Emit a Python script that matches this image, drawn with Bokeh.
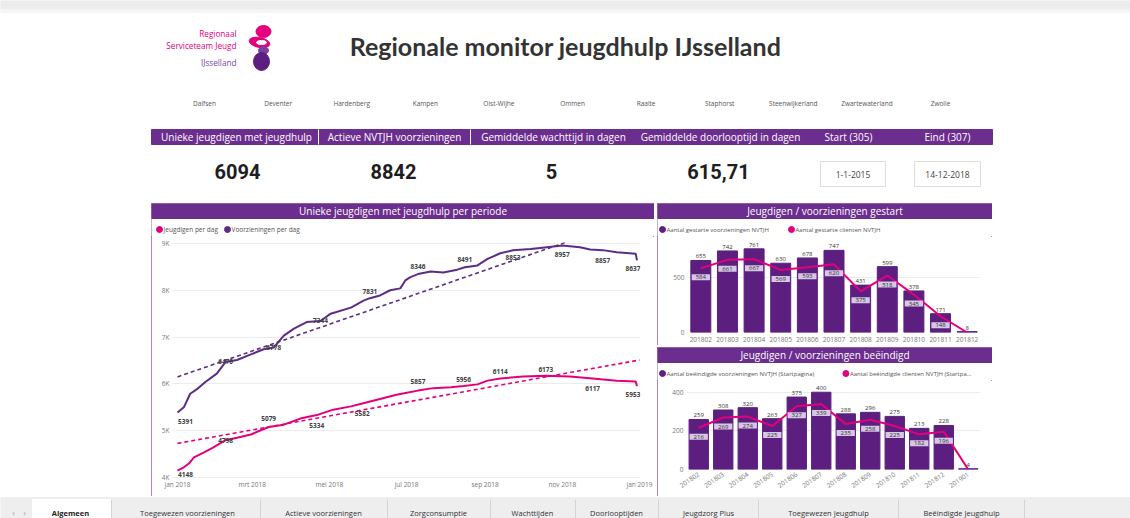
import datetime as dt
from bokeh.plotting import figure
from bokeh.models import Range1d, FixedTicker, ColumnDataSource, Spacer, LabelSet
from bokeh.layouts import row, column
from bokeh.core.properties import value
from bokeh.embed import file_html
from bokeh.resources import INLINE

# ---------------- data ----------------
dashboard_title = "Regionale monitor jeugdhulp IJsselland"
logo_lines = ["Regionaal", "Serviceteam Jeugd", "IJsselland"]
gemeenten = ["Dalfsen", "Deventer", "Hardenberg", "Kampen", "Olst-Wijhe", "Ommen",
             "Raalte", "Staphorst", "Steenwijkerland", "Zwartewaterland", "Zwolle"]
kpi_names = ["Unieke jeugdigen met jeugdhulp", "Actieve NVTJH voorzieningen",
             "Gemiddelde wachttijd in dagen", "Gemiddelde doorlooptijd in dagen"]
kpi_values = ["6094", "8842", "5", "615,71"]
period_names = ["Start (305)", "Eind (307)"]
period_values = ["1-1-2015", "14-12-2018"]
tabs = ["Algemeen", "Toegewezen voorzieningen", "Actieve voorzieningen", "Zorgconsumptie",
        "Wachttijden", "Doorlooptijden", "Jeugdzorg Plus", "Toegewezen Jeugdhulp",
        "Beëindigde Jeugdhulp"]

line_title = "Unieke jeugdigen met jeugdhulp per periode"
line_series = ["Jeugdigen per dag", "Voorzieningen per dag"]
voorz_dates = ["2018-01-01", "2018-01-06", "2018-01-11", "2018-01-17", "2018-01-23", "2018-02-01",
               "2018-02-08", "2018-02-17", "2018-02-28", "2018-03-10", "2018-03-18", "2018-03-26",
               "2018-04-03", "2018-04-13", "2018-04-24", "2018-05-02", "2018-05-18", "2018-05-28",
               "2018-06-02", "2018-06-10", "2018-06-18", "2018-06-26", "2018-06-30", "2018-07-04",
               "2018-07-10", "2018-07-20", "2018-07-30", "2018-08-10", "2018-08-16", "2018-08-26",
               "2018-09-03", "2018-09-13", "2018-09-23", "2018-10-07", "2018-10-20", "2018-11-01",
               "2018-11-15", "2018-11-23", "2018-12-03", "2018-12-14", "2018-12-29", "2018-12-30"]
voorz_values = [5391, 5500, 5790, 5900, 6040, 6220, 6470, 6510, 6630, 6740, 6778, 7030,
                7180, 7320, 7344, 7500, 7630, 7780, 7831, 7890, 8000, 8040, 8210, 8280,
                8346, 8400, 8380, 8440, 8491, 8530, 8670, 8790, 8853, 8880, 8920, 8957,
                8920, 8870, 8857, 8810, 8780, 8637]
voorz_label_idx = [0, 6, 10, 14, 18, 24, 28, 32, 35, 38, 41]
jeugd_dates = ["2018-01-01", "2018-01-06", "2018-01-10", "2018-01-14", "2018-01-22", "2018-01-29",
               "2018-02-08", "2018-02-17", "2018-02-28", "2018-03-14", "2018-03-26", "2018-04-08",
               "2018-04-21", "2018-05-04", "2018-05-18", "2018-05-27", "2018-06-13", "2018-06-23",
               "2018-06-29", "2018-07-10", "2018-07-22", "2018-08-05", "2018-08-15", "2018-08-26",
               "2018-09-03", "2018-09-13", "2018-10-01", "2018-10-19", "2018-11-07", "2018-11-25",
               "2018-12-14", "2018-12-29", "2018-12-30"]
jeugd_values = [4148, 4220, 4300, 4430, 4540, 4640, 4798, 4850, 4920, 5079, 5130, 5260,
                5334, 5450, 5520, 5582, 5700, 5770, 5800, 5857, 5910, 5930, 5956, 5990,
                6070, 6114, 6160, 6173, 6160, 6117, 6070, 6050, 5953]
jeugd_label_idx = [0, 6, 9, 12, 15, 19, 22, 25, 27, 29, 32]
trend_dates = ["2018-01-01", "2019-01-01"]
voorz_trend = [6150, 9570]
jeugd_trend = [4730, 6510]
y_ticks = [4000, 5000, 6000, 7000, 8000, 9000]
y_tick_labels = ["4K", "5K", "6K", "7K", "8K", "9K"]
x_tick_dates = ["2018-01-01", "2018-03-01", "2018-05-01", "2018-07-01", "2018-09-01",
                "2018-11-01", "2019-01-01"]
x_tick_labels = ["jan 2018", "mrt 2018", "mei 2018", "jul 2018", "sep 2018", "nov 2018", "jan 2019"]

gestart_title = "Jeugdigen / voorzieningen gestart"
gestart_series = ["Aantal gestarte voorzieningen NVTJH", "Aantal gestarte clienten NVTJH"]
gestart_maanden = ["201802", "201803", "201804", "201805", "201806", "201807",
                   "201808", "201809", "201810", "201811", "201812"]
gestart_voorzieningen = [655, 742, 761, 630, 678, 747, 431, 599, 378, 171, 8]
gestart_clienten = [584, 661, 667, 569, 593, 620, 375, 518, 345, 148, 0]
gestart_ticks = [0, 500]

beeindigd_title = "Jeugdigen / voorzieningen beëindigd"
beeindigd_series = ["Aantal beëindigde voorzieningen NVTJH (Startpagina)",
                    "Aantal beëindigde clienten NVTJH (Startpa…"]
beeindigd_maanden = ["201802", "201803", "201804", "201805", "201806", "201807",
                     "201808", "201809", "201810", "201811", "201812", "201901"]
beeindigd_voorzieningen = [259, 308, 320, 263, 375, 400, 288, 296, 275, 213, 228, 4]
beeindigd_clienten = [216, 269, 274, 225, 327, 339, 235, 258, 225, 182, 196, 0]
beeindigd_ticks = [0, 200, 400]

# ---------------- style ----------------
HDR = "#6b2d8e"
BAR = "#5c1f80"
LINE_P = "#5b2d87"
PINK = "#e4007c"
LAV = "#d6c7e4"
BORDER = "#8c67a9"
FONT = "Open Sans"
# label placement (screen px, + = up) and horizontal nudges
voorz_label_dy = [-9, 0, 0, 0, 7, 8, 8, -7, -9, -10, -8]
voorz_label_dx = [8, 0, 0, 0, 0, 0, 0, 0, 0, 0, -4]
jeugd_label_dy = [-4, 0, 9, -10, -10, 9, 6, 7, 6, -10, -8]
jeugd_label_dx = [8, 0, 0, 0, 0, 0, 0, 0, 0, 0, -4]
panel_style = {"outline": "1px solid " + BORDER, "outline-offset": "-1px"}


def to_dt(s):
    return dt.datetime.fromisoformat(s)


def to_ms(s):
    return int((to_dt(s) - dt.datetime(1970, 1, 1)).total_seconds() * 1000)


def canvas(w, h, x0, x1, ytop, ybot):
    p = figure(width=w, height=h, x_range=Range1d(x0, x1), y_range=Range1d(ybot, ytop),
               x_axis_location=None, y_axis_location=None, toolbar_location=None,
               output_backend="svg", min_border=0)
    p.frame_align = False
    p.xgrid.visible = False
    p.ygrid.visible = False
    p.outline_line_color = None
    p.background_fill_color = "white"
    p.border_fill_color = "white"
    return p


def txt(p, xs, ys, texts, size, color, align="center", font=FONT, style="normal",
        baseline="middle"):
    p.text(x=xs, y=ys, text=texts, text_font=value(font), text_font_size=size,
           text_color=color, text_align=align, text_baseline=baseline,
           text_font_style=style)


def style_axes(p):
    p.frame_align = False
    p.outline_line_color = None
    for ax in p.axis:
        ax.axis_line_color = None
        ax.major_tick_line_color = None
        ax.minor_tick_line_color = None
        ax.major_tick_out = 0
        ax.major_label_text_font = FONT
        ax.major_label_text_font_size = "6.5px"
        ax.major_label_text_color = "#777777"
        ax.major_label_standoff = 3
    p.xgrid.grid_line_color = None
    p.ygrid.grid_line_color = "#ececec"


# ---------------- top section ----------------
top = canvas(1130, 203, 0, 1130, 0, 203)
top.quad(left=[0], right=[1130], top=[0], bottom=[9], color="#ececec")
top.quad(left=[0], right=[1130], top=[9], bottom=[12], color="#f5f5f5")
txt(top, [236, 236, 236], [33, 45, 62], logo_lines, "8.2px", [PINK, PINK, "#7b3fa0"],
    align="right")
top.ellipse(x=[259], y=[42], width=21, height=10, width_units="screen", height_units="screen",
            color=PINK, angle=-0.2)
top.ellipse(x=[261], y=[42], width=10, height=4, width_units="screen", height_units="screen",
            color="white")
top.ellipse(x=[263], y=[31], width=15, height=12, width_units="screen", height_units="screen",
            color=PINK)
top.ellipse(x=[263], y=[50], width=10, height=8, width_units="screen", height_units="screen",
            color="#7b3fa0")
top.ellipse(x=[261], y=[61], width=16, height=18, width_units="screen", height_units="screen",
            color="#5c1f80")
txt(top, [565], [45], [dashboard_title], "25px", "#333333", font="Lato", style="bold")
txt(top, [204 + i * 73.6 for i in range(len(gemeenten))], [103] * len(gemeenten), gemeenten,
    "6.5px", "#555555")
top.quad(left=[151], right=[992], top=[129], bottom=[144], color=HDR)
top.segment(x0=[318, 470], y0=[129, 129], x1=[318, 470], y1=[144, 144], color="white",
            line_width=1)
txt(top, [236, 394, 553, 720], [136.5] * 4, kpi_names, "10px", "white")
txt(top, [848, 947], [136.5] * 2, period_names, "10px", "white")
txt(top, [237, 393, 551, 718], [171] * 4, kpi_values, "20px", "#1e1e1e", font="Roboto",
    style="bold")
top.quad(left=[820, 914], right=[885, 980], top=[161, 161], bottom=[186, 186],
         fill_color="white", line_color="#dddddd")
txt(top, [852.5, 947], [174, 174], period_values, "8.5px", "#444444")

# ---------------- line panel ----------------
hdr_l = canvas(503, 33, 151, 654, 203, 236)
hdr_l.quad(left=[151], right=[654], top=[203], bottom=[218], color=HDR)
txt(hdr_l, [402.5], [210.5], [line_title], "10px", "white")
hdr_l.scatter(x=[159, 227], y=[229, 229], size=6, marker="circle", color=[PINK, LINE_P])
txt(hdr_l, [163, 231], [229, 229], line_series, "6.5px", "#555555", align="left")

lc = figure(width=503, height=260, x_axis_type="datetime",
            x_range=Range1d(dt.datetime(2017, 12, 28, 1), dt.datetime(2019, 1, 1, 19)),
            y_range=Range1d(3980, 9020), toolbar_location=None, output_backend="svg",
            min_border_left=21, min_border_right=14, min_border_top=6, min_border_bottom=18)
style_axes(lc)
lc.yaxis.ticker = FixedTicker(ticks=y_ticks)
lc.yaxis.major_label_overrides = dict(zip(y_ticks, y_tick_labels))
x_ms = [to_ms(d) for d in x_tick_dates]
lc.xaxis.ticker = FixedTicker(ticks=x_ms)
lc.xaxis.major_label_overrides = dict(zip(x_ms, x_tick_labels))
lc.xaxis.major_label_standoff = 1

tdx = [to_dt(d) for d in trend_dates]
lc.line(tdx, voorz_trend, color=LINE_P, line_width=1.6, line_dash="4 3")
lc.line(tdx, jeugd_trend, color=PINK, line_width=1.6, line_dash="4 3")
vx = [to_dt(d) for d in voorz_dates]
jx = [to_dt(d) for d in jeugd_dates]
lc.line(vx, voorz_values, color=LINE_P, line_width=2)
lc.line(jx, jeugd_values, color=PINK, line_width=2)
lab_src = ColumnDataSource(dict(
    x=[vx[i] for i in voorz_label_idx] + [jx[i] for i in jeugd_label_idx],
    y=[voorz_values[i] for i in voorz_label_idx] + [jeugd_values[i] for i in jeugd_label_idx],
    t=[str(voorz_values[i]) for i in voorz_label_idx] + [str(jeugd_values[i]) for i in jeugd_label_idx],
    dy=voorz_label_dy + jeugd_label_dy,
    dx=voorz_label_dx + jeugd_label_dx,
))
lc.add_layout(LabelSet(x="x", y="y", text="t", x_offset="dx", y_offset="dy", source=lab_src,
                       text_font=value(FONT), text_font_size="6.5px", text_font_style="bold",
                       text_color="#404040", text_align="center", text_baseline="middle"))

line_panel = column(hdr_l, lc)
line_panel.styles = panel_style


# ---------------- bar panels ----------------
def bar_panel(title, series, months, bars, clients, ticks, ymax, ytop, chart_h, mb_left,
              mb_top, mb_bottom, width_frac, rotate):
    hdr = canvas(335, 33, 657, 992, ytop, ytop + 33)
    hdr.quad(left=[657], right=[992], top=[ytop], bottom=[ytop + 15], color=HDR)
    txt(hdr, [824.5], [ytop + 7.5], [title], "10px", "white")
    x2 = 666 + len(series[0]) * 3.4
    hdr.scatter(x=[662, x2 + 6], y=[ytop + 26] * 2, size=6, marker="circle",
                color=[BAR, PINK])
    txt(hdr, [666, x2 + 10], [ytop + 26] * 2, series, "6px", "#555555", align="left")

    n = len(months)
    idx = list(range(n))
    b = figure(width=335, height=chart_h, x_range=Range1d(-0.5, n - 0.5),
               y_range=Range1d(0, ymax), toolbar_location=None, output_backend="svg",
               min_border_left=mb_left, min_border_right=12, min_border_top=mb_top,
               min_border_bottom=mb_bottom)
    style_axes(b)
    b.yaxis.ticker = FixedTicker(ticks=ticks)
    b.xaxis.ticker = FixedTicker(ticks=idx)
    b.xaxis.major_label_overrides = dict(zip(idx, months))
    b.xaxis.major_label_standoff = 4
    if rotate:
        b.xaxis.major_label_orientation = 0.6
    b.vbar(x=idx, top=bars, width=width_frac, color=BAR)
    b.line(idx, clients, color=PINK, line_width=2)
    bar_src = ColumnDataSource(dict(x=idx, y=bars, t=[str(v) for v in bars]))
    b.add_layout(LabelSet(x="x", y="y", text="t", y_offset=2, source=bar_src,
                          text_font=value(FONT), text_font_size="6px", text_color="#333333",
                          text_align="center", text_baseline="bottom"))
    keep = [i for i in idx if clients[i] > 0]
    b.text(x=keep, y=[clients[i] for i in keep], text=[str(clients[i]) for i in keep],
           y_offset=9, text_font=value(FONT), text_font_size="6px", text_color="#333333",
           text_align="center", text_baseline="middle", background_fill_color=LAV,
           padding=dict(left=4, right=4, top=1, bottom=1))
    panel = column(hdr, b)
    panel.styles = panel_style
    return panel


p1 = bar_panel(gestart_title, gestart_series, gestart_maanden, gestart_voorzieningen,
               gestart_clienten, gestart_ticks, 855, 203, 109, 30, 2, 13, 0.75, False)
p2 = bar_panel(beeindigd_title, beeindigd_series, beeindigd_maanden, beeindigd_voorzieningen,
               beeindigd_clienten, beeindigd_ticks, 440, 347, 116, 29, 4, 27, 0.79, True)
bars_col = column(p1, Spacer(width=335, height=2), p2)

middle = row(Spacer(width=151, height=293), line_panel, Spacer(width=3, height=293), bars_col)

# ---------------- tabs ----------------
tab_fig = canvas(1130, 22, 0, 1130, 496, 518)
tab_fig.quad(left=[0], right=[1130], top=[497], bottom=[518], color="#eeeeee")
tab_fig.quad(left=[32], right=[111], top=[499], bottom=[518], color="white")
seps = [111, 260, 387, 490, 575, 658, 758, 898, 1024]
tab_fig.segment(x0=seps, y0=[499] * len(seps), x1=seps, y1=[518] * len(seps), color="#d4d4d4")
tab_x = [70, 187, 323, 438, 532, 616, 708, 828, 961]
txt(tab_fig, tab_x[:1], [512], tabs[:1], "7.5px", "#222222", style="bold")
txt(tab_fig, tab_x[1:], [512] * (len(tabs) - 1), tabs[1:], "7.5px", "#333333")
txt(tab_fig, [13, 24], [512, 512], ["‹", "›"], "9px", "#aaaaaa")

page = column(top, middle, tab_fig)
open("out.html", "w").write(file_html(page, INLINE))
